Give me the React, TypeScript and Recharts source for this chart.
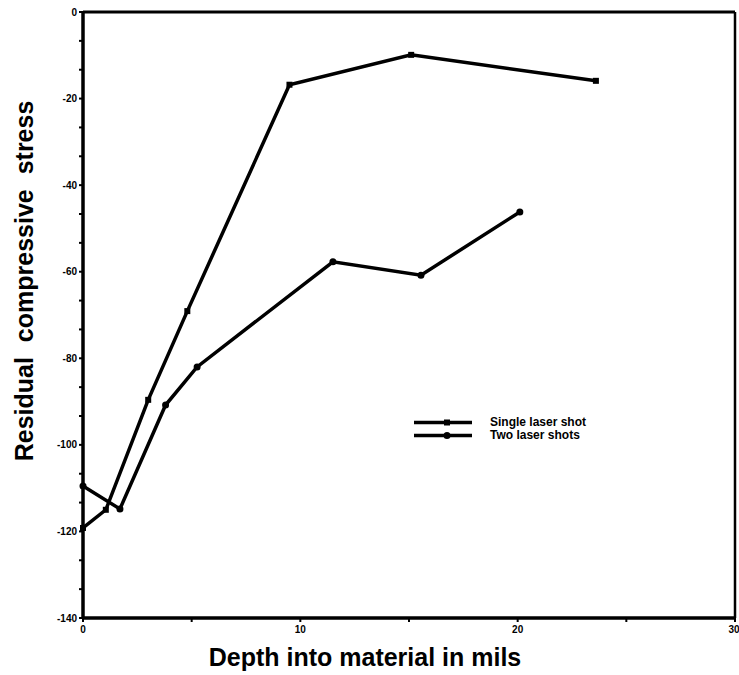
import React from "react";
import {
  LineChart,
  Line,
  XAxis,
  YAxis,
  ReferenceLine,
  Label,
} from "recharts";

// depth (mils) vs residual compressive stress
const singleDepth = [0, 1.05, 3.0, 4.8, 9.5, 15.1, 23.6];
const singleStress = [-119.2, -115.0, -89.6, -69.1, -16.8, -9.9, -15.9];

const twoDepth = [0, 1.7, 3.8, 5.25, 11.5, 15.55, 20.1];
const twoStress = [-109.5, -114.8, -90.8, -82.0, -57.7, -60.8, -46.2];

const xTicks = [0, 5, 10, 15, 20, 25, 30];
// minor ticks every 20/3, labels only on every third
const yTicks = Array.from({ length: 22 }, (_, i) => -(i * 20) / 3);

const singleData = singleDepth.map((d, i) => ({ depth: d, stress: singleStress[i] }));
const twoData = twoDepth.map((d, i) => ({ depth: d, stress: twoStress[i] }));

const FONT = "'Liberation Sans', Arial, Helvetica, sans-serif";

const SquareDot = (props: any) => {
  const { cx, cy } = props;
  if (cx == null || cy == null) return null;
  return <rect x={cx - 3} y={cy - 3} width={6} height={6} fill="#000" />;
};

const LegendBox = () => (
  <div
    style={{
      position: "absolute",
      left: 414,
      top: 416,
      fontFamily: FONT,
      fontWeight: 700,
      fontSize: 12,
      color: "#000",
      lineHeight: "13px",
    }}
  >
    <div style={{ display: "flex", alignItems: "center", height: 13 }}>
      <svg width={60} height={13}>
        <line x1={0} y1={6.5} x2={58} y2={6.5} stroke="#000" strokeWidth={3.5} />
        <rect x={30} y={3.5} width={6} height={6} fill="#000" />
      </svg>
      <span style={{ marginLeft: 16 }}>Single laser shot</span>
    </div>
    <div style={{ display: "flex", alignItems: "center", height: 13 }}>
      <svg width={60} height={13}>
        <line x1={0} y1={6.5} x2={58} y2={6.5} stroke="#000" strokeWidth={3.5} />
        <circle cx={33} cy={6.5} r={3.5} fill="#000" />
      </svg>
      <span style={{ marginLeft: 16 }}>Two laser shots</span>
    </div>
  </div>
);

export default function App() {
  return (
    <div style={{ position: "absolute", left: 0, top: 0, width: 739, height: 675, background: "#fff" }}>
      <LineChart
        width={739}
        height={675}
        margin={{ top: 12, right: 4, bottom: 0, left: 0 }}
      >
        <XAxis
          type="number"
          dataKey="depth"
          domain={[0, 30]}
          ticks={xTicks}
          allowDuplicatedCategory={false}
          height={57}
          axisLine={{ stroke: "#000", strokeWidth: 3.5 }}
          tickLine={{ stroke: "#000", strokeWidth: 2 }}
          tickSize={4}
          tickMargin={4}
          tick={{ fontSize: 10, fontWeight: 700, fill: "#000", fontFamily: FONT }}
          tickFormatter={(v: number) => (v % 10 === 0 ? String(v) : "")}
        >
          <Label
            content={() => (
              <text
                x={365}
                y={666}
                textAnchor="middle"
                fontFamily={FONT}
                fontWeight={700}
                fontSize={25}
                fill="#000"
              >
                Depth into material in mils
              </text>
            )}
          />
        </XAxis>
        <YAxis
          type="number"
          domain={[-140, 0]}
          ticks={yTicks}
          interval={0}
          width={83}
          axisLine={{ stroke: "#000", strokeWidth: 3.5 }}
          tickLine={{ stroke: "#000", strokeWidth: 2 }}
          tickSize={4}
          tickMargin={2}
          tick={{ fontSize: 10, fontWeight: 700, fill: "#000", fontFamily: FONT }}
          tickFormatter={(v: number) =>
            Math.abs(Math.round(v) - v) < 1e-6 && Math.round(v) % 20 === 0 ? String(Math.round(v)) : ""
          }
        >
          <Label
            content={() => (
              <text
                x={0}
                y={0}
                transform="translate(33, 281) rotate(-90)"
                textAnchor="middle"
                fontFamily={FONT}
                fontWeight={700}
                fontSize={25}
                wordSpacing={8}
                fill="#000"
              >
                Residual compressive stress
              </text>
            )}
          />
        </YAxis>
        <ReferenceLine y={0} stroke="#000" strokeWidth={3} />
        <ReferenceLine x={30} stroke="#000" strokeWidth={2.5} />
        <Line
          data={singleData}
          dataKey="stress"
          name="Single laser shot"
          stroke="#000"
          strokeWidth={3.5}
          dot={<SquareDot />}
          activeDot={false}
          isAnimationActive={false}
        />
        <Line
          data={twoData}
          dataKey="stress"
          name="Two laser shots"
          stroke="#000"
          strokeWidth={3.5}
          dot={{ r: 3.5, fill: "#000", stroke: "#000", strokeWidth: 0 }}
          activeDot={false}
          isAnimationActive={false}
        />
      </LineChart>
      <LegendBox />
    </div>
  );
}
